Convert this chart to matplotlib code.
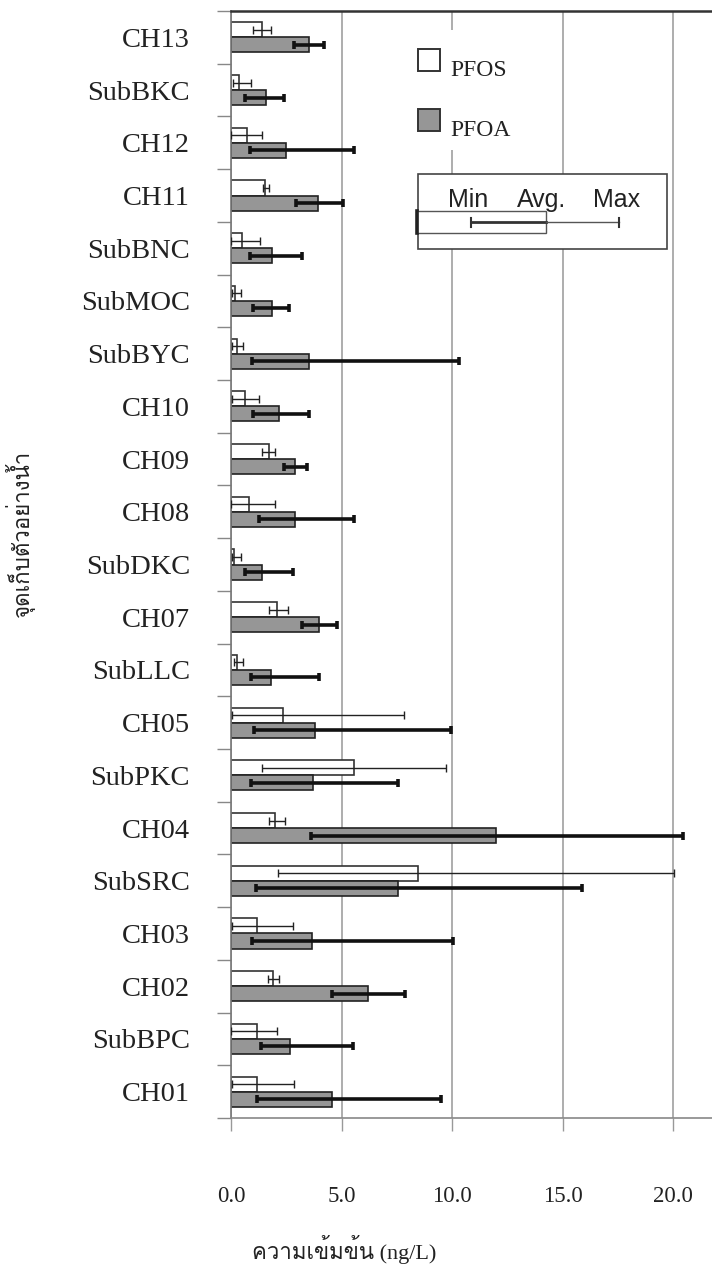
import matplotlib
matplotlib.use('Agg')
import matplotlib.pyplot as plt
import numpy as np
from matplotlib import font_manager
from matplotlib.ft2font import FT2Font
from matplotlib.patches import Rectangle
from matplotlib.lines import Line2D

# จุดเก็บตัวอย่าง (บนลงล่าง)
cats = ['CH13', 'SubBKC', 'CH12', 'CH11', 'SubBNC', 'SubMOC', 'SubBYC', 'CH10',
        'CH09', 'CH08', 'SubDKC', 'CH07', 'SubLLC', 'CH05', 'SubPKC', 'CH04',
        'SubSRC', 'CH03', 'CH02', 'SubBPC', 'CH01']

# PFOS (ng/L)
pfos_avg = [1.40, 0.35, 0.74, 1.55, 0.51, 0.20, 0.26, 0.63, 1.70, 0.81, 0.15,
            2.08, 0.26, 2.37, 5.55, 2.00, 8.46, 1.19, 1.92, 1.18, 1.18]
pfos_min = [1.01, 0.10, 0.00, 1.43, 0.00, 0.06, 0.03, 0.03, 1.42, 0.00, 0.06,
            1.70, 0.15, 0.03, 1.42, 1.70, 2.11, 0.03, 1.66, 0.00, 0.05]
pfos_max = [1.81, 0.90, 1.40, 1.73, 1.31, 0.44, 0.53, 1.27, 2.00, 1.99, 0.44,
            2.56, 0.53, 7.81, 9.71, 2.43, 20.06, 2.79, 2.19, 2.10, 2.84]

# PFOA (ng/L)
pfoa_avg = [3.51, 1.57, 2.49, 3.95, 1.86, 1.87, 3.51, 2.16, 2.91, 2.91, 1.40,
            3.97, 1.79, 3.80, 3.73, 11.98, 7.54, 3.67, 6.21, 2.68, 4.55]
pfoa_min = [2.85, 0.63, 0.86, 2.96, 0.86, 1.01, 0.94, 1.01, 2.38, 1.25, 0.65,
            3.23, 0.90, 1.04, 0.90, 3.62, 1.13, 0.97, 4.55, 1.37, 1.19]
pfoa_max = [4.21, 2.38, 5.57, 5.05, 3.20, 2.62, 10.30, 3.51, 3.42, 5.58, 2.82,
            4.78, 3.98, 9.95, 7.57, 20.44, 15.90, 10.05, 7.87, 5.50, 9.49]

xticks = [0, 5, 10, 15, 20]


def find_thai():
    # หาฟอนต์ที่มีอักษรไทย
    for f in font_manager.fontManager.ttflist:
        try:
            if FT2Font(f.fname).get_char_index(0x0E04):
                return f.name
        except Exception:
            pass
    return 'DejaVu Sans'


thai = find_thai()
serif = ['Liberation Serif', thai, 'DejaVu Sans']

W, H = 712, 1268
fig = plt.figure(figsize=(W / 100, H / 100), dpi=100)
ax = fig.add_axes([231 / W, 150 / H, 481 / W, 1107 / H])


def px(x, y):
    # พิกัดพิกเซล (มุมซ้ายบน) -> สัดส่วนของรูป
    return x / W, 1 - y / H


n = len(cats)
y = np.arange(n)
bh = 0.285

pfos_avg = np.array(pfos_avg)
pfoa_avg = np.array(pfoa_avg)
pfos_err = [pfos_avg - np.array(pfos_min), np.array(pfos_max) - pfos_avg]
pfoa_err = [pfoa_avg - np.array(pfoa_min), np.array(pfoa_max) - pfoa_avg]

ax.barh(y - bh / 2, pfos_avg, height=bh, color='white', edgecolor='#333333',
        linewidth=1.2, zorder=2)
ax.barh(y + bh / 2, pfoa_avg, height=bh, color='#969696', edgecolor='#222222',
        linewidth=1.2, zorder=2)
ax.errorbar(pfos_avg, y - bh / 2, xerr=pfos_err, fmt='none', ecolor='#222222',
            elinewidth=1.0, capsize=2.6, capthick=1.0, zorder=3)
ax.errorbar(pfoa_avg, y + bh / 2, xerr=pfoa_err, fmt='none', ecolor='#111111',
            elinewidth=2.6, capsize=2.6, capthick=2.6, zorder=3)

ax.set_xlim(0, 481 / 22.1)
ax.set_ylim(n - 0.5, -0.5)

ax.set_xticks(xticks)
ax.set_xticklabels(['%.1f' % v for v in xticks], family=serif, fontsize=16.5,
                   color='#222222')
ax.tick_params(axis='x', direction='out', length=9, width=1, color='#999999',
               pad=40)
ax.set_yticks(y)
ax.set_yticklabels(cats, family=serif, fontsize=20.5, color='#222222')
ax.set_yticks(np.arange(n + 1) - 0.5, minor=True)
ax.tick_params(axis='y', which='major', length=0, pad=29.5)
ax.tick_params(axis='y', which='minor', direction='out', length=10, width=1,
               color='#888888')

ax.grid(axis='x', color='#a0a0a0', linewidth=1.2, zorder=0)
ax.set_axisbelow(True)

ax.spines['right'].set_visible(False)
ax.spines['top'].set_color('#333333')
ax.spines['top'].set_linewidth(1.8)
ax.spines['left'].set_color('#777777')
ax.spines['left'].set_linewidth(1.2)
ax.spines['bottom'].set_color('#888888')
ax.spines['bottom'].set_linewidth(1.2)

ax.set_xlabel('ความเข้มข้น (ng/L)', family=serif, fontsize=16, color='#222222',
              va='center')
ax.xaxis.set_label_coords((344 - 231) / 481, (1118 - 1250) / 1107)
ax.set_ylabel('จุดเก็บตัวอย่างน้ำ', family=serif, fontsize=16, color='#222222',
              va='center')
ax.yaxis.set_label_coords((20 - 231) / 481, (1118 - 533) / 1107)

# คำอธิบายสัญลักษณ์ PFOS / PFOA
fig.patches.append(Rectangle(px(410, 150), 130 / W, 120 / H, transform=fig.transFigure,
                             facecolor='white', edgecolor='none', zorder=5))
fig.patches.append(Rectangle(px(418, 71), 22 / W, 22 / H, transform=fig.transFigure,
                             facecolor='white', edgecolor='#333333', lw=1.4, zorder=6))
fig.patches.append(Rectangle(px(418, 131), 22 / W, 22 / H, transform=fig.transFigure,
                             facecolor='#969696', edgecolor='#333333', lw=1.4, zorder=6))
fig.text(*px(450, 71), 'PFOS', family=serif, fontsize=17, color='#222222',
         va='center', zorder=7)
fig.text(*px(450, 131), 'PFOA', family=serif, fontsize=17, color='#222222',
         va='center', zorder=7)
fig.patches.append(Rectangle(px(444, 150), 100 / W, 14 / H, transform=fig.transFigure,
                             facecolor='white', edgecolor='none', zorder=8))

# กล่องอธิบาย Min / Avg. / Max
fig.patches.append(Rectangle(px(418, 249), 249 / W, 75 / H, transform=fig.transFigure,
                             facecolor='white', edgecolor='#444444', lw=1.2, zorder=5))
for tx, s in [(468, 'Min'), (542, 'Avg.'), (617, 'Max')]:
    fig.text(*px(tx, 207), s, family='Liberation Sans', fontsize=18,
             color='#222222', ha='center', va='baseline', zorder=7)
fig.patches.append(Rectangle(px(417, 233), 129 / W, 22 / H, transform=fig.transFigure,
                             facecolor='white', edgecolor='#555555', lw=1.0, zorder=6))
fig.add_artist(Line2D([417 / W, 417 / W], [1 - 211 / H, 1 - 233 / H], color='#222222',
                      lw=2.6, zorder=7))
fig.add_artist(Line2D([471 / W, 546 / W], [1 - 222 / H] * 2, color='#333333', lw=2.0,
                      zorder=7))
fig.add_artist(Line2D([546 / W, 619 / W], [1 - 222 / H] * 2, color='#555555', lw=1.0,
                      zorder=7))
for cx in (471, 619):
    fig.add_artist(Line2D([cx / W, cx / W], [1 - 218 / H, 1 - 227 / H], color='#333333',
                          lw=1.5, zorder=7))

fig.savefig('out.png', dpi=100)
